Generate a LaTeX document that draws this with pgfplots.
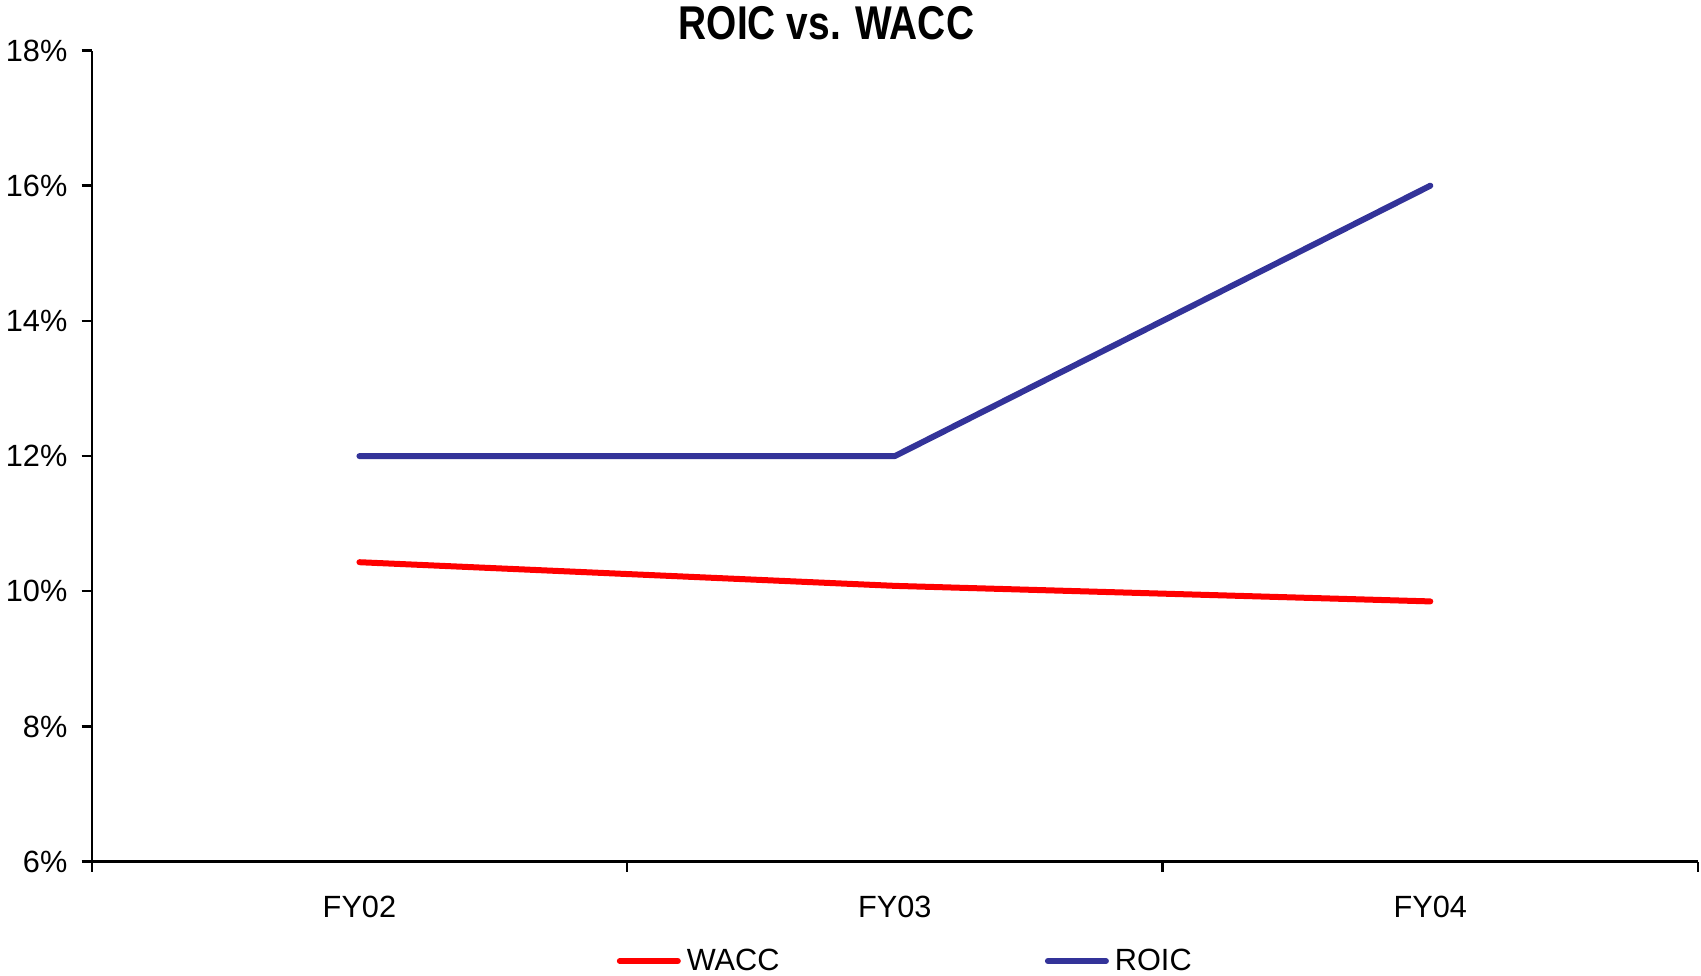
\documentclass[border=0pt]{standalone}
\usepackage{pgfplots}
\pgfplotsset{compat=1.18}
\usepackage{fontspec}
\setmainfont{Liberation Sans}
\newfontfamily\titlefont{Liberation Sans}[FakeStretch=0.82]
\definecolor{waccred}{RGB}{255,0,0}
\definecolor{roicblue}{RGB}{51,51,153}

\begin{document}
\begin{tikzpicture}
\path[use as bounding box] (-45.85pt,-57.15pt) rectangle (804.5pt,430.75pt);
\begin{axis}[
  at={(0,0)}, anchor=south west,
  scale only axis, width=803pt, height=405.5pt,
  xmin=0, xmax=3, ymin=6, ymax=18,
  axis lines=left, axis line style={-, line width=1.2pt, black},
  tick style={line width=1.2pt, black},
  tick align=outside, major tick length=5pt,
  xtick={0,1,2,3}, xticklabels={},
  extra x ticks={0.5,1.5,2.5},
  extra x tick labels={FY02,FY03,FY04},
  extra x tick style={major tick length=0pt,
    xticklabel style={anchor=base, yshift=-27.8pt}},
  ytick={6,8,...,18},
  yticklabel={\pgfmathprintnumber{\tick}\%},
  yticklabel style={anchor=east, inner sep=0pt, xshift=-7pt},
  /pgf/number format/assume math mode=true,
  every tick label/.append style={font=\fontsize{15.35}{18}\selectfont},
  legend columns=2,
  legend style={at={(0.3269,-0.1225)}, anchor=west,
    draw=none, fill=none, inner sep=0pt, outer sep=0pt,
    font=\fontsize{15.35}{18}\selectfont,
    nodes={inner sep=0pt},
    /tikz/every odd column/.append style={column sep=3pt},
    /tikz/every even column/.append style={column sep=0pt}},
  legend image code/.code={\draw[#1, line cap=round] (1.5pt,0pt) -- (30.5pt,0pt);},
]
% weighted average cost of capital
\addplot[waccred, line width=3pt, line cap=round, line join=round]
  coordinates {(0.5,10.43) (1.5,10.08) (2.5,9.85)};
\addlegendentry{\makebox[179pt][l]{WACC}}
% return on invested capital
\addplot[roicblue, line width=3pt, line cap=round, line join=round]
  coordinates {(0.5,12) (1.5,12) (2.5,16)};
\addlegendentry{ROIC}
\end{axis}
\node[anchor=base, font=\titlefont\bfseries\fontsize{23.7}{28}\selectfont]
  at (367.3pt,411.25pt) {ROIC vs. WACC};
\end{tikzpicture}
\end{document}
